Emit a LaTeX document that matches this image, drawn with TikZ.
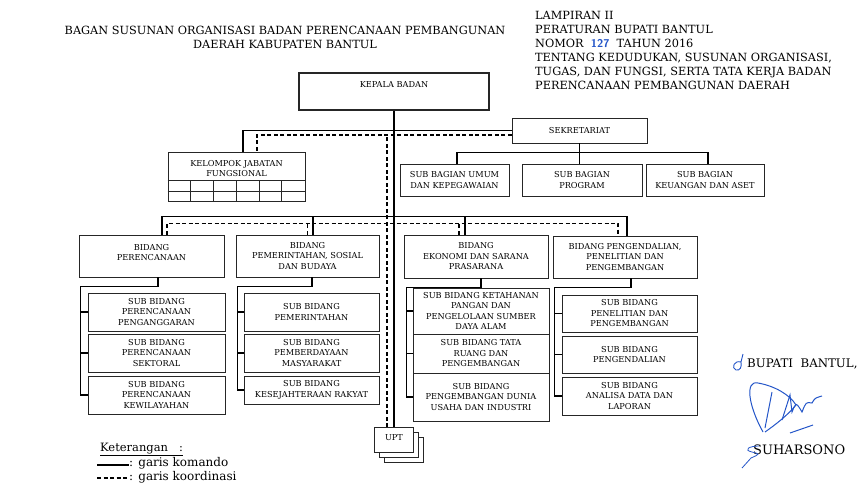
\documentclass[tikz,border=0pt]{standalone}
\usepackage{fontspec}
\setmainfont{DejaVu Serif}
\usepackage{xcolor}
\usepackage{tikz}
\usetikzlibrary{shadows}
\definecolor{inkblue}{RGB}{35,85,200}

\begin{document}
\begin{tikzpicture}[x=1pt,y=-1pt,
    box/.style={draw=black!85, line width=0.8pt, fill=white, align=center, inner sep=1pt,
        font=\fontsize{8.2}{10.5}\selectfont},
    komando/.style={line width=1.4pt},
    koordinasi/.style={line width=1.4pt, dash pattern=on 4pt off 2.5pt},
    teks/.style={inner sep=0pt, font=\fontsize{11.3}{14}\selectfont}]
    \useasboundingbox (0,0) rectangle (865,485);

    % Judul
    \node[teks, align=center, font=\fontsize{11.3}{14}\selectfont] (judul) at (285,37)
        {BAGAN SUSUNAN ORGANISASI BADAN PERENCANAAN PEMBANGUNAN\\DAERAH KABUPATEN BANTUL};
    \node[teks, align=left, anchor=north west] (lampiran) at (535,11)
        {LAMPIRAN II\\PERATURAN BUPATI BANTUL\\
         NOMOR \ {\color{inkblue}\sffamily\bfseries 127}\ \ TAHUN 2016\\
         TENTANG KEDUDUKAN, SUSUNAN ORGANISASI,\\
         TUGAS, DAN FUNGSI, SERTA TATA KERJA BADAN\\
         PERENCANAAN PEMBANGUNAN DAERAH};

    % Pimpinan dan sekretariat
    \node[box, line width=1.4pt, minimum width=190, minimum height=37, text height=7pt, text depth=16pt]
        (kepala) at (394,91.5) {KEPALA BADAN};
    \node[box, minimum width=135, minimum height=25] (sekretariat) at (579.5,130.5) {SEKRETARIAT};
    \node[box, minimum width=137, minimum height=49, text height=17.5pt, text depth=17.5pt]
        (jabatan) at (236.5,176.5) {KELOMPOK JABATAN\\FUNGSIONAL};
    \node[box, minimum width=109, minimum height=32] (umum) at (454.5,180) {SUB BAGIAN UMUM\\DAN KEPEGAWAIAN};
    \node[box, minimum width=120, minimum height=32] (program) at (582,180) {SUB BAGIAN\\PROGRAM};
    \node[box, minimum width=118, minimum height=32] (keuangan) at (705,180) {SUB BAGIAN\\KEUANGAN DAN ASET};

    % Bidang
    \node[box, minimum width=145, minimum height=42, text height=17.5pt, text depth=8.5pt]
        (perencanaan) at (151.5,256) {BIDANG\\PERENCANAAN};
    \node[box, minimum width=143, minimum height=42] (pemerintahan) at (307.5,256)
        {BIDANG\\PEMERINTAHAN, SOSIAL\\DAN BUDAYA};
    \node[box, minimum width=144, minimum height=43] (ekonomi) at (476,256.5)
        {BIDANG\\EKONOMI DAN SARANA\\PRASARANA};
    \node[box, minimum width=144, minimum height=42] (pengendalian) at (625,257)
        {BIDANG PENGENDALIAN,\\PENELITIAN DAN\\PENGEMBANGAN};

    % Sub bidang
    \node[box, minimum width=137, minimum height=38] (sbA1) at (156.5,312) {SUB BIDANG\\PERENCANAAN\\PENGANGGARAN};
    \node[box, minimum width=137, minimum height=38] (sbA2) at (156.5,353) {SUB BIDANG\\PERENCANAAN\\SEKTORAL};
    \node[box, minimum width=137, minimum height=38] (sbA3) at (156.5,395) {SUB BIDANG\\PERENCANAAN\\KEWILAYAHAN};
    \node[box, minimum width=135, minimum height=38] (sbB1) at (311.5,312) {SUB BIDANG\\PEMERINTAHAN};
    \node[box, minimum width=135, minimum height=38] (sbB2) at (311.5,353) {SUB BIDANG\\PEMBERDAYAAN\\MASYARAKAT};
    \node[box, minimum width=135, minimum height=28] (sbB3) at (311.5,390) {SUB BIDANG\\KESEJAHTERAAN RAKYAT};
    \node[box, minimum width=136, minimum height=46] (sbC1) at (481,311)
        {SUB BIDANG KETAHANAN\\PANGAN DAN\\PENGELOLAAN SUMBER\\DAYA ALAM};
    \node[box, minimum width=136, minimum height=39] (sbC2) at (481,353.5) {SUB BIDANG TATA\\RUANG DAN\\PENGEMBANGAN};
    \node[box, minimum width=136, minimum height=48] (sbC3) at (481,397) {SUB BIDANG\\PENGEMBANGAN DUNIA\\USAHA DAN INDUSTRI};
    \node[box, minimum width=135, minimum height=37] (sbD1) at (629.5,313.5) {SUB BIDANG\\PENELITIAN DAN\\PENGEMBANGAN};
    \node[box, minimum width=135, minimum height=37] (sbD2) at (629.5,354.5) {SUB BIDANG\\PENGENDALIAN};
    \node[box, minimum width=135, minimum height=38] (sbD3) at (629.5,396) {SUB BIDANG\\ANALISA DATA DAN\\LAPORAN};

    % UPT
    \node[box, minimum width=39, minimum height=25, text height=7pt, text depth=6pt,
        double copy shadow={shadow xshift=5pt, shadow yshift=-5pt, draw=black!85, line width=0.8pt}]
        (upt) at (394,440) {UPT};

    % Kotak jabatan fungsional
    \draw[line width=0.8pt, black!85]
        ([yshift=21pt]jabatan.south west) -- ([yshift=21pt]jabatan.south east)
        ([yshift=10.5pt]jabatan.south west) -- ([yshift=10.5pt]jabatan.south east);
    \foreach \x in {22.8,45.7,68.5,91.3,114.2}
        \draw[line width=0.8pt, black!85] ([xshift=\x pt]jabatan.south west) -- ++(0,-21);

    % Garis komando
    \draw[komando] (kepala.south) -- (upt.north);
    \draw[komando] (sekretariat.west) -| ([xshift=6.5pt]jabatan.north);
    \draw[komando] (sekretariat.south) -- (sekretariat.south |- program.north);
    \draw[komando] ([xshift=2.5pt]umum.north) -- ++(0,-11) -| ([xshift=3pt]keuangan.north);
    \draw[komando] ([xshift=10.5pt]perencanaan.north) -- ++(0,-18) -| ([xshift=2pt]pengendalian.north);
    \draw[komando] ([xshift=5.5pt]pemerintahan.north) -- ++(0,-18);
    \draw[komando] ([xshift=-11pt]ekonomi.north) -- ++(0,-18);
    \draw[komando] ([xshift=6.5pt]perencanaan.south) -- ++(0,9) -| ([xshift=-7pt]sbA3.west) -- (sbA3.west);
    \draw[komando] ([xshift=4.5pt]pemerintahan.south) -- ++(0,9) -| ([xshift=-6pt]sbB3.west) -- (sbB3.west);
    \draw[komando] ([xshift=5pt]ekonomi.south) -- ++(0,9) -| ([xshift=-6pt]sbC3.west) -- (sbC3.west);
    \draw[komando] ([xshift=6pt]pengendalian.south) -- ++(0,9) -| ([xshift=-7pt]sbD3.west) -- (sbD3.west);
    \foreach \s in {sbA1,sbA2,sbB1,sbB2,sbC1,sbC2,sbD1,sbD2}
        \draw[komando] (\s.west) -- ++(-6.5,0);

    % Garis koordinasi
    \coordinate (koor) at ([yshift=-4.5pt]sekretariat.west);
    \draw[koordinasi] (koor) -| ([xshift=20.5pt]jabatan.north);
    \draw[koordinasi] ([xshift=-7pt]upt.north) -- ([xshift=-7pt]upt.north |- koor);
    \draw[koordinasi] ([xshift=15.5pt]perencanaan.north) -- ++(0,-11) -| ([xshift=-7pt]pengendalian.north);
    \draw[koordinasi] (pemerintahan.north) -- ++(0,-11);
    \draw[koordinasi] ([xshift=-17pt]ekonomi.north) -- ++(0,-11);

    % Keterangan
    \node[teks, anchor=base west, font=\fontsize{11.5}{14}\selectfont] (keterangan) at (100,451)
        {\underline{Keterangan\ \ \ :}};
    \coordinate (legkom) at (97,465);
    \node[teks, anchor=west, font=\fontsize{12}{14}\selectfont] (txtkom) at (129,463) {: garis komando};
    \draw[komando] (legkom) -- (legkom -| txtkom.west);
    \coordinate (legkoor) at (97,478);
    \node[teks, anchor=west, font=\fontsize{12}{14}\selectfont] (txtkoor) at (129,477) {: garis koordinasi};
    \draw[koordinasi] (legkoor) -- (legkoor -| txtkoor.west);

    % Tanda tangan
    \node[teks, anchor=base west, font=\fontsize{11.8}{14}\selectfont] (bupati) at (747,367) {BUPATI\ \ BANTUL,};
    \node[teks, anchor=base west, font=\fontsize{13}{14}\selectfont] (suharsono) at (753,454) {SUHARSONO};
    \draw[inkblue, line width=0.9pt] (743,354) -- (741,362) .. controls (734,360) and (731,368) .. (736,370)
        .. controls (740,371) and (742,367) .. (741,362);
    \draw[inkblue, line width=1pt] (763,432) .. controls (748,405) and (745,380) .. (758,383)
        .. controls (775,386) and (790,395) .. (796,405) .. controls (788,415) and (775,425) .. (765,432);
    \draw[inkblue, line width=1pt] (772,392) -- (765,428) (782,420) -- (790,395) -- (792,412)
        .. controls (796,402) .. (802,412) .. controls (806,402) .. (812,403) .. controls (815,398) .. (822,396);
    \draw[inkblue, line width=1pt] (790,433) -- (813,425);
    \draw[inkblue, line width=0.8pt] (759,446) .. controls (749,446) and (743,450) .. (752,452)
        .. controls (760,454) .. (751,458) -- (742,468);
\end{tikzpicture}
\end{document}
